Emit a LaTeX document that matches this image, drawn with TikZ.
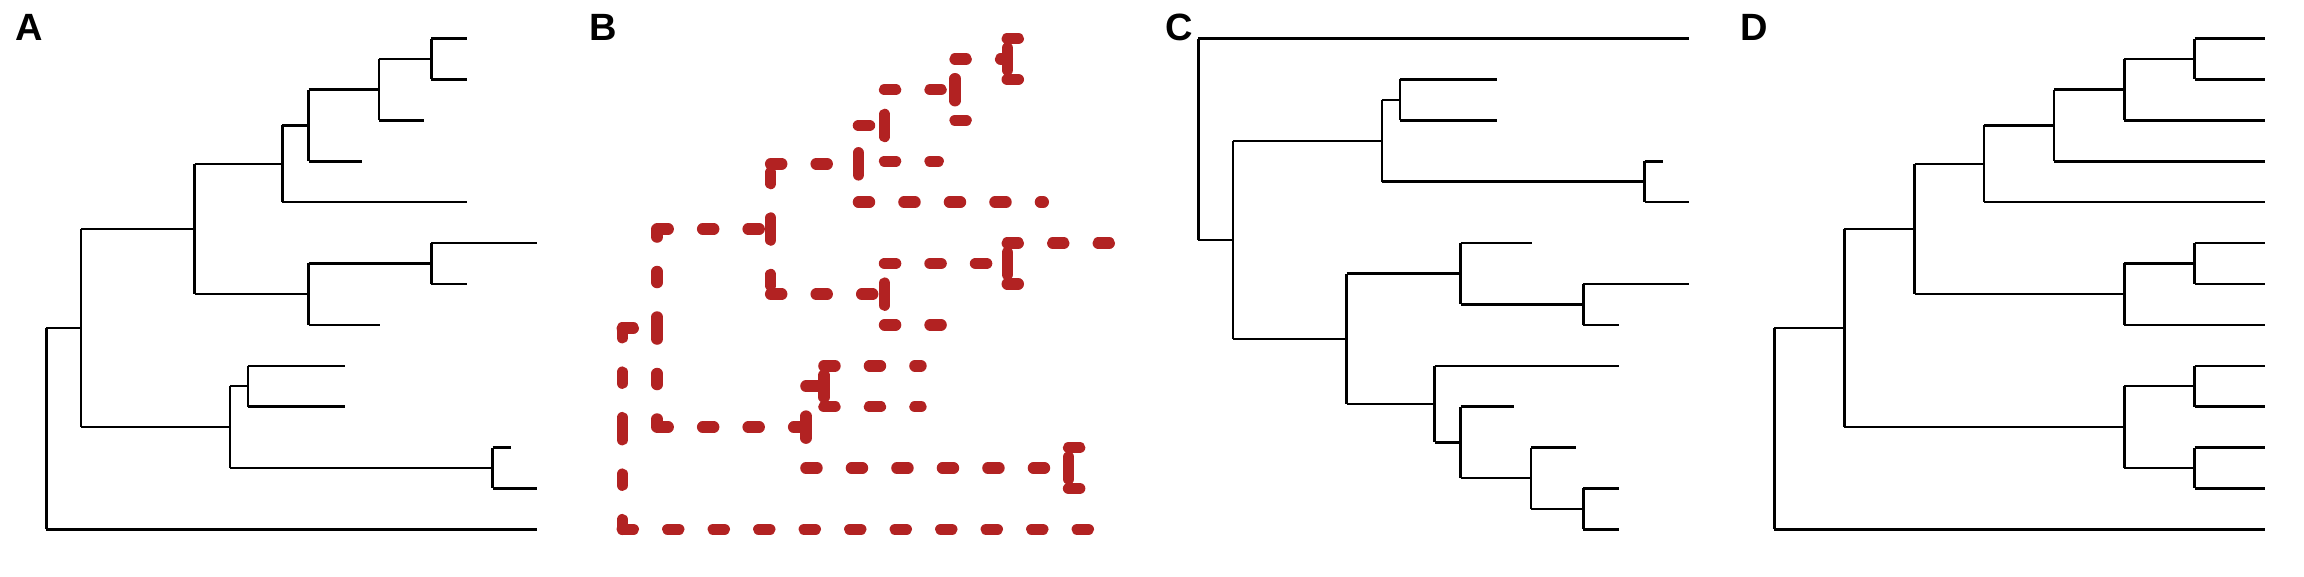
\documentclass[tikz,border=0pt]{standalone}
\usepackage{fontspec}
\setmainfont{Liberation Sans}
\definecolor{treered}{RGB}{178,34,34}
\tikzset{
  treeline/.style={line width=2.5pt, line cap=butt, black},
  dashline/.style={line width=11.5pt, line cap=round, treered, dash pattern=on 11pt off 34.5pt},
  panellabel/.style={anchor=base west, inner sep=0pt, font=\fontsize{38}{38}\selectfont\bfseries},
  panel/.style={x=0.367347pt, y=-0.367347pt},
}
\newcommand\treeedge[3]{\draw[#1] (#2) -- (#2 |- #3) (#2 |- #3) -- (#3);}
% tree of panels A and B (same geometry), D has the same topology
\newcommand\treeAB[1]{%
  \coordinate (r) at (126,1167);
  \coordinate (n1) at (221,893);
  \coordinate (n2) at (530,623.4);
  \coordinate (n3) at (769,446);
  \coordinate (n4) at (840,341.6);
  \coordinate (n5) at (1032,244.2);
  \coordinate (n6) at (1174,160.7);
  \coordinate (n7) at (840,800.8);
  \coordinate (n8) at (1174,717.3);
  \coordinate (n9) at (626,1162.7);
  \coordinate (n10) at (675,1051.3);
  \coordinate (n11) at (1341,1274);
  \coordinate (t1) at (1272,105);
  \coordinate (t2) at (1272,216.3);
  \coordinate (t3) at (1153,327.7);
  \coordinate (t4) at (986,439);
  \coordinate (t5) at (1272,550.3);
  \coordinate (t6) at (1463,661.7);
  \coordinate (t7) at (1272,773);
  \coordinate (t8) at (1034,884.3);
  \coordinate (t9) at (939,995.7);
  \coordinate (t10) at (939,1107);
  \coordinate (t11) at (1392,1218.3);
  \coordinate (t12) at (1463,1329.7);
  \coordinate (t13) at (1463,1441);
  \treeedge{#1}{r}{n1}\treeedge{#1}{r}{t13}
  \treeedge{#1}{n1}{n2}\treeedge{#1}{n1}{n9}
  \treeedge{#1}{n2}{n3}\treeedge{#1}{n2}{n7}
  \treeedge{#1}{n3}{n4}\treeedge{#1}{n3}{t5}
  \treeedge{#1}{n4}{n5}\treeedge{#1}{n4}{t4}
  \treeedge{#1}{n5}{n6}\treeedge{#1}{n5}{t3}
  \treeedge{#1}{n6}{t1}\treeedge{#1}{n6}{t2}
  \treeedge{#1}{n7}{n8}\treeedge{#1}{n7}{t8}
  \treeedge{#1}{n8}{t6}\treeedge{#1}{n8}{t7}
  \treeedge{#1}{n9}{n10}\treeedge{#1}{n9}{n11}
  \treeedge{#1}{n10}{t9}\treeedge{#1}{n10}{t10}
  \treeedge{#1}{n11}{t11}\treeedge{#1}{n11}{t12}
}
\begin{document}
\begin{tikzpicture}
\useasboundingbox (0pt,0pt) rectangle (2304pt,-576pt);
% panel labels
\node[panellabel] (labA) at (15pt,-40.7pt) {A};
\node[panellabel] (labB) at (589.5pt,-40.7pt) {B};
\node[panellabel] (labC) at (1165.5pt,-40.7pt) {C};
\node[panellabel] (labD) at (1740.5pt,-40.7pt) {D};
% A
\begin{scope}[panel, name prefix=a-]
  \treeAB{treeline}
\end{scope}
% B
\begin{scope}[panel, xshift=576pt, name prefix=b-]
  \treeAB{dashline}
\end{scope}
% C
\begin{scope}[panel, xshift=1152pt, name prefix=c-]
  \coordinate (r) at (126,379);
  \coordinate (m11) at (221,653);
  \coordinate (m3) at (626,383.3);
  \coordinate (m1) at (675,272);
  \coordinate (m2) at (1341,494.7);
  \coordinate (m10) at (530,922.6);
  \coordinate (m5) at (840,745.2);
  \coordinate (m4) at (1174,828.7);
  \coordinate (m9) at (769,1100);
  \coordinate (m8) at (840,1204.4);
  \coordinate (m7) at (1032,1301.8);
  \coordinate (m6) at (1174,1385.3);
  \coordinate (t1) at (1463,105);
  \coordinate (t2) at (939,216.3);
  \coordinate (t3) at (939,327.7);
  \coordinate (t4) at (1392,439);
  \coordinate (t5) at (1463,550.3);
  \coordinate (t6) at (1034,661.7);
  \coordinate (t7) at (1463,773);
  \coordinate (t8) at (1272,884.3);
  \coordinate (t9) at (1272,995.7);
  \coordinate (t10) at (986,1107);
  \coordinate (t11) at (1153,1218.3);
  \coordinate (t12) at (1272,1329.7);
  \coordinate (t13) at (1272,1441);
  \treeedge{treeline}{r}{t1}\treeedge{treeline}{r}{m11}
  \treeedge{treeline}{m11}{m3}\treeedge{treeline}{m11}{m10}
  \treeedge{treeline}{m3}{m1}\treeedge{treeline}{m3}{m2}
  \treeedge{treeline}{m1}{t2}\treeedge{treeline}{m1}{t3}
  \treeedge{treeline}{m2}{t4}\treeedge{treeline}{m2}{t5}
  \treeedge{treeline}{m10}{m5}\treeedge{treeline}{m10}{m9}
  \treeedge{treeline}{m5}{t6}\treeedge{treeline}{m5}{m4}
  \treeedge{treeline}{m4}{t7}\treeedge{treeline}{m4}{t8}
  \treeedge{treeline}{m9}{t9}\treeedge{treeline}{m9}{m8}
  \treeedge{treeline}{m8}{t10}\treeedge{treeline}{m8}{m7}
  \treeedge{treeline}{m7}{t11}\treeedge{treeline}{m7}{m6}
  \treeedge{treeline}{m6}{t12}\treeedge{treeline}{m6}{t13}
\end{scope}
% D
\begin{scope}[panel, xshift=1728pt, name prefix=d-]
  \coordinate (r) at (126,1167);
  \coordinate (n1) at (317,893);
  \coordinate (n2) at (508,623.4);
  \coordinate (n3) at (697,446);
  \coordinate (n4) at (888,341.6);
  \coordinate (n5) at (1079,244.2);
  \coordinate (n6) at (1270,160.7);
  \coordinate (n7) at (1079,800.8);
  \coordinate (n8) at (1270,717.3);
  \coordinate (n9) at (1079,1162.7);
  \coordinate (n10) at (1270,1051.3);
  \coordinate (n11) at (1270,1274);
  \coordinate (t1) at (1463,105);
  \coordinate (t2) at (1463,216.3);
  \coordinate (t3) at (1463,327.7);
  \coordinate (t4) at (1463,439);
  \coordinate (t5) at (1463,550.3);
  \coordinate (t6) at (1463,661.7);
  \coordinate (t7) at (1463,773);
  \coordinate (t8) at (1463,884.3);
  \coordinate (t9) at (1463,995.7);
  \coordinate (t10) at (1463,1107);
  \coordinate (t11) at (1463,1218.3);
  \coordinate (t12) at (1463,1329.7);
  \coordinate (t13) at (1463,1441);
  \treeedge{treeline}{r}{n1}\treeedge{treeline}{r}{t13}
  \treeedge{treeline}{n1}{n2}\treeedge{treeline}{n1}{n9}
  \treeedge{treeline}{n2}{n3}\treeedge{treeline}{n2}{n7}
  \treeedge{treeline}{n3}{n4}\treeedge{treeline}{n3}{t5}
  \treeedge{treeline}{n4}{n5}\treeedge{treeline}{n4}{t4}
  \treeedge{treeline}{n5}{n6}\treeedge{treeline}{n5}{t3}
  \treeedge{treeline}{n6}{t1}\treeedge{treeline}{n6}{t2}
  \treeedge{treeline}{n7}{n8}\treeedge{treeline}{n7}{t8}
  \treeedge{treeline}{n8}{t6}\treeedge{treeline}{n8}{t7}
  \treeedge{treeline}{n9}{n10}\treeedge{treeline}{n9}{n11}
  \treeedge{treeline}{n10}{t9}\treeedge{treeline}{n10}{t10}
  \treeedge{treeline}{n11}{t11}\treeedge{treeline}{n11}{t12}
\end{scope}
\end{tikzpicture}
\end{document}
